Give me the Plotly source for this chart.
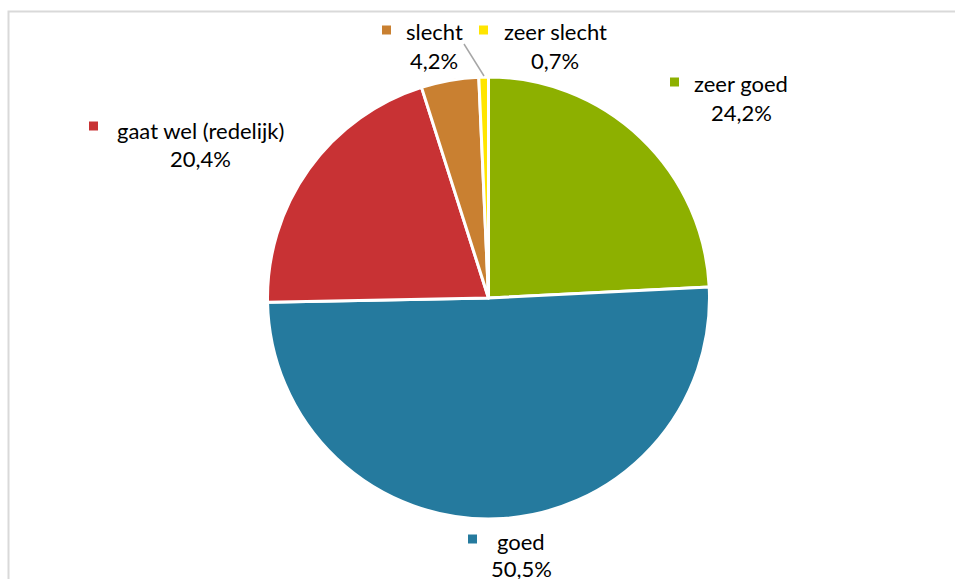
import plotly.graph_objects as go

W, H = 955, 579

categories = ["zeer goed", "goed", "gaat wel (redelijk)", "slecht", "zeer slecht"]
values = [24.2, 50.5, 20.4, 4.2, 0.7]
colors = ["#8DB000", "#257A9E", "#C83234", "#C98031", "#FFE500"]

pct_labels = [f"{v:.1f}".replace(".", ",") + "%" for v in values]

def px(x):
    return x / W

def py(y):
    return 1 - y / H

# pie geometry (pixels)
cx, cy, r = 488.5, 298, 221

fig = go.Figure(go.Pie(
    labels=categories,
    values=values,
    sort=False,
    direction="clockwise",
    rotation=0,
    marker=dict(colors=colors, line=dict(color="white", width=3)),
    textinfo="none",
    hoverinfo="label+percent",
    showlegend=False,
    domain=dict(x=[px(cx - r), px(cx + r)], y=[py(cy + r), py(cy - r)]),
))

# label layout: (marker_x, marker_y, text center x, line1 y, line2 y)
label_pos = [
    (670, 82, 741, 84, 113),
    (468, 539, 521, 541, 568),
    (89, 126, 200, 130, 158),
    (382, 30, 434, 31, 60),
    (479, 30, 555, 31, 60),
]

font = dict(family="Lato, 'Open Sans', sans-serif", size=22, color="#000000")
ann = []
shapes = []
for (mx, my, tx, y1, y2), cat, pct, col in zip(label_pos, categories, pct_labels, colors):
    ann.append(dict(x=px(tx), y=py(y1), xref="paper", yref="paper", text=cat,
                    showarrow=False, xanchor="center", yanchor="middle", font=font))
    ann.append(dict(x=px(tx), y=py(y2), xref="paper", yref="paper", text=pct,
                    showarrow=False, xanchor="center", yanchor="middle", font=font))
    shapes.append(dict(type="rect", xref="paper", yref="paper",
                       x0=px(mx), x1=px(mx + 9), y0=py(my + 4.5), y1=py(my - 4.5),
                       fillcolor=col, line=dict(width=0)))

# leader line for "zeer slecht"
shapes.append(dict(type="line", xref="paper", yref="paper",
                   x0=px(464), y0=py(44), x1=px(484), y1=py(76),
                   line=dict(color="#A6A6A6", width=1.5)))
# chart border
shapes.append(dict(type="rect", xref="paper", yref="paper",
                   x0=px(8.5), x1=1.2, y0=-0.2, y1=py(11.5),
                   line=dict(color="#D9D9D9", width=2), fillcolor="rgba(0,0,0,0)"))

fig.update_layout(
    width=W, height=H,
    margin=dict(l=0, r=0, t=0, b=0),
    paper_bgcolor="white", plot_bgcolor="white",
    annotations=ann, shapes=shapes,
)

fig.write_html("out.html")
